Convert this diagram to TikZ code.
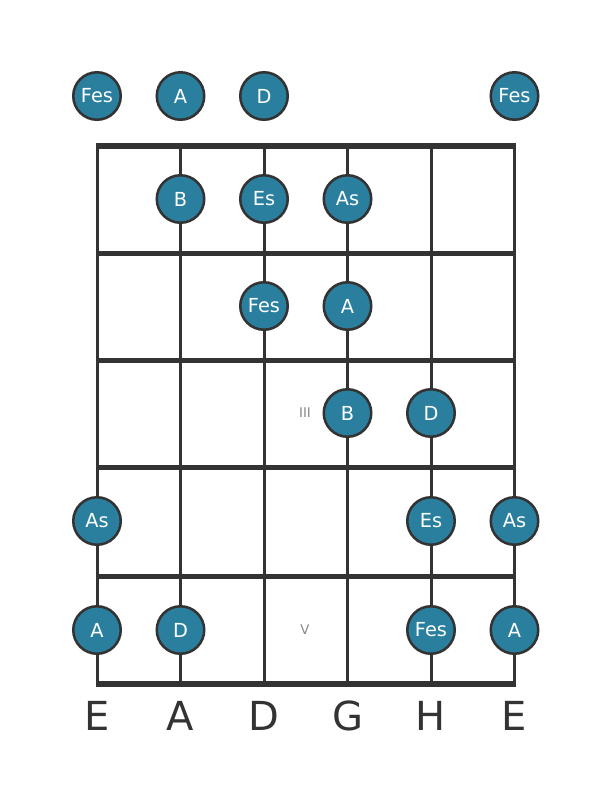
\documentclass[tikz,border=0pt]{standalone}
\usepackage{fontspec}
\setmainfont{DejaVu Sans}
\definecolor{dotblue}{HTML}{2A7F9E}
\definecolor{linegray}{HTML}{333333}
\definecolor{markgray}{HTML}{888888}
\begin{document}
\begin{tikzpicture}[x=0.75pt, y=-0.75pt,
    note/.style={circle, draw=linegray, line width=1.9pt, fill=dotblue,
      minimum size=35.6pt, inner sep=0pt, text=white,
      font=\fontsize{14.5}{14.5}\selectfont},
    fretmark/.style={text=markgray, font=\fontsize{10}{10}\selectfont},
    strname/.style={text=linegray, anchor=base, font=\fontsize{30}{30}\selectfont}]
    \useasboundingbox (0,0) rectangle (611,801);

    % strings
    \foreach \x in {97,180.5,264,347.5,431,514.5}
      \draw [linegray, line width=2.25pt] (\x,146) -- (\x,684);
    % frets
    \foreach \y in {253,360,467,576}
      \draw [linegray, line width=3.75pt] (95.5,\y) -- (516,\y);
    \draw [linegray, line width=4.5pt] (95.5,146) -- (516,146);
    \draw [linegray, line width=4.5pt] (95.5,684) -- (516,684);

    % open strings
    \node [note] (o1) at (97,96) {Fes};
    \node [note] (o2) at (180.5,96) {A};
    \node [note] (o3) at (264,96) {D};
    \node [note] (o6) at (514.5,96) {Fes};

    % fret 1
    \node [note] (f1s2) at (180.5,199) {B};
    \node [note] (f1s3) at (264,199) {Es};
    \node [note] (f1s4) at (347.5,199) {As};

    % fret 2
    \node [note] (f2s3) at (264,306) {Fes};
    \node [note] (f2s4) at (347.5,306) {A};

    % fret 3
    \node [fretmark] (m3) at (305,413) {III};
    \node [note] (f3s4) at (347.5,413) {B};
    \node [note] (f3s5) at (431,413) {D};

    % fret 4
    \node [note] (f4s1) at (97,521) {As};
    \node [note] (f4s5) at (431,521) {Es};
    \node [note] (f4s6) at (514.5,521) {As};

    % fret 5
    \node [fretmark] (m5) at (305,630) {V};
    \node [note] (f5s1) at (97,630) {A};
    \node [note] (f5s2) at (180.5,630) {D};
    \node [note] (f5s5) at (431,630) {Fes};
    \node [note] (f5s6) at (514.5,630) {A};

    % string names
    \node [strname] (n1) at (97,730) {E};
    \node [strname] (n2) at (180.5,730) {A};
    \node [strname] (n3) at (264,730) {D};
    \node [strname] (n4) at (347.5,730) {G};
    \node [strname] (n5) at (431,730) {H};
    \node [strname] (n6) at (514.5,730) {E};
\end{tikzpicture}
\end{document}
